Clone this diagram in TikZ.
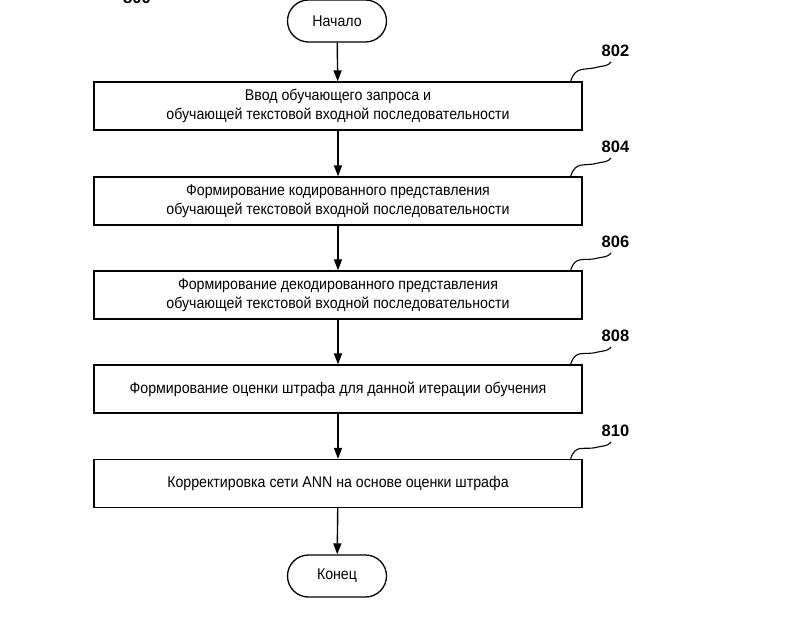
\documentclass[tikz,border=0pt]{standalone}
\usepackage{fontspec}
\setmainfont{Liberation Sans}[FakeStretch=0.915]
\newfontfamily\labfont{Liberation Sans}
\usetikzlibrary{arrows.meta,shapes.misc,calc}
\begin{document}
\begin{tikzpicture}[x=1pt,y=-1pt,
  every node/.style={inner sep=0pt},
  stepbox/.style={draw,line width=1.3pt,minimum width=488pt,minimum height=48pt,align=center,font=\fontsize{15.5}{19}\selectfont},
  term/.style={draw,line width=1.3pt,rounded rectangle,minimum width=99pt,minimum height=42pt,font=\fontsize{15.5}{18}\selectfont},
  conn/.style={line width=1.4pt,-{Triangle[length=11pt,width=8pt]}},
  reflab/.style={font=\labfont\bfseries\fontsize{16.5}{19}\selectfont},
  squig/.style={line width=1.1pt}]
\useasboundingbox[fill=white] (0,0) rectangle (812,623);
\node[reflab,anchor=south] (l800) at (137,4) {800};
\node[term] (start) at (337,21) {Начало};
\node[stepbox] (b1) at (338,106) {Ввод обучающего запроса и\\обучающей текстовой входной последовательности};
\node[stepbox] (b2) at (338,201) {Формирование кодированного представления\\обучающей текстовой входной последовательности};
\node[stepbox] (b3) at (338,295) {Формирование декодированного представления\\обучающей текстовой входной последовательности};
\node[stepbox] (b4) at (338,389) {Формирование оценки штрафа для данной итерации обучения};
\node[stepbox] (b5) at (338,483.5) {Корректировка сети ANN на основе оценки штрафа};
\node[term] (end) at (337,576) {Конец};
\draw[conn] (start) -- (b1);
\draw[conn] (b1) -- (b2);
\draw[conn] (b2) -- (b3);
\draw[conn] (b3) -- (b4);
\draw[conn] (b4) -- (b5);
\draw[conn] (b5) -- (end);
\foreach \b/\n/\y in {b1/802/51,b2/804/147,b3/806/242,b4/808/336,b5/810/431}{
  \node[reflab] (l\n) at (615.5,\y) {\n};
  \coordinate (s\n) at (611,\y+11);
  \draw[squig] ([xshift=-12pt]\b.north east) .. controls +(5,-16) and +(-14,4) .. ($(s\n)+(-13,5)$) .. controls +(7,-1.5) and +(-3,4) .. (s\n);
}
\end{tikzpicture}
\end{document}
